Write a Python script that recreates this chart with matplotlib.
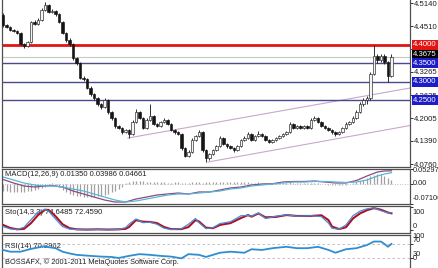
import numpy as np
import matplotlib.pyplot as plt
from matplotlib.transforms import blended_transform_factory

plt.rcParams['font.family'] = ['Liberation Sans', 'DejaVu Sans']

# ---- price data (one value per bar) ----
closes = [4.4542, 4.4488, 4.4406, 4.4379, 4.4324, 4.4025, 4.3971, 4.4080, 4.4624, 4.4569,
          4.4678, 4.4950, 4.5086, 4.4896, 4.4923, 4.4841, 4.4624, 4.4324, 4.4134, 4.4025,
          4.3644, 4.3508, 4.3100, 4.3073, 4.2828, 4.2665, 4.2556, 4.2393, 4.2312, 4.2502,
          4.2176, 4.2013, 4.1795, 4.1740, 4.1632, 4.1686, 4.1577, 4.1904, 4.2176, 4.2013,
          4.1740, 4.1958, 4.2067, 4.1849, 4.1795, 4.1904, 4.1958, 4.1849, 4.1686, 4.1632,
          4.1577, 4.1196, 4.0979, 4.1088, 4.1414, 4.1523, 4.1632, 4.1142, 4.0924, 4.1033,
          4.1142, 4.1251, 4.1468, 4.1305, 4.1251, 4.1196, 4.1142, 4.1251, 4.1414, 4.1468,
          4.1577, 4.1414, 4.1523, 4.1577, 4.1523, 4.1414, 4.1360, 4.1414, 4.1468, 4.1523,
          4.1577, 4.1632, 4.1849, 4.1740, 4.1795, 4.1740, 4.1795, 4.1740, 4.1958, 4.2013,
          4.1904, 4.1795, 4.1740, 4.1686, 4.1632, 4.1577, 4.1632, 4.1740, 4.1849, 4.1904,
          4.2013, 4.2176, 4.2393, 4.2502, 4.2556, 4.3209, 4.3699, 4.3590, 4.3699, 4.3536,
          4.3155, 4.3675]
first_open = 4.4815
highs = [4.4870, 4.4580, 4.4520, 4.4440, 4.4410, 4.4350, 4.4060, 4.4110, 4.4660, 4.4680,
         4.4720, 4.5000, 4.5170, 4.5110, 4.4970, 4.4950, 4.4870, 4.4650, 4.4360, 4.4180,
         4.4060, 4.3680, 4.3540, 4.3150, 4.3110, 4.2870, 4.2700, 4.2590, 4.2430, 4.2560,
         4.2540, 4.2210, 4.2050, 4.1830, 4.1780, 4.1720, 4.1720, 4.1950, 4.2250, 4.2210,
         4.2050, 4.2000, 4.2390, 4.2100, 4.1880, 4.1940, 4.2000, 4.1990, 4.1880, 4.1720,
         4.1670, 4.1610, 4.1230, 4.1130, 4.1460, 4.1560, 4.1680, 4.1670, 4.1180, 4.1070,
         4.1180, 4.1290, 4.1510, 4.1500, 4.1340, 4.1290, 4.1230, 4.1290, 4.1450, 4.1510,
         4.1620, 4.1610, 4.1560, 4.1650, 4.1610, 4.1560, 4.1450, 4.1450, 4.1500, 4.1560,
         4.1610, 4.1670, 4.1900, 4.1880, 4.1830, 4.1830, 4.1830, 4.1830, 4.2000, 4.2060,
         4.2050, 4.1940, 4.1830, 4.1780, 4.1720, 4.1670, 4.1670, 4.1780, 4.1900, 4.1940,
         4.2060, 4.2220, 4.2440, 4.2550, 4.2600, 4.3260, 4.4000, 4.3750, 4.3760, 4.3740,
         4.3570, 4.3740]
lows = [4.4500, 4.4450, 4.4370, 4.4340, 4.4290, 4.3990, 4.3920, 4.3940, 4.4050, 4.4530,
        4.4540, 4.4650, 4.4920, 4.4860, 4.4870, 4.4800, 4.4590, 4.4290, 4.4090, 4.3980,
        4.3600, 4.3460, 4.3060, 4.3030, 4.2790, 4.2620, 4.2510, 4.2350, 4.2270, 4.2280,
        4.2130, 4.1970, 4.1750, 4.1700, 4.1590, 4.1600, 4.1470, 4.1540, 4.1870, 4.1980,
        4.1700, 4.1710, 4.1920, 4.1810, 4.1760, 4.1760, 4.1870, 4.1810, 4.1650, 4.1590,
        4.1540, 4.1150, 4.0940, 4.0950, 4.1050, 4.1380, 4.1490, 4.1100, 4.0810, 4.0880,
        4.1000, 4.1110, 4.1220, 4.1270, 4.1210, 4.1160, 4.1100, 4.1110, 4.1220, 4.1380,
        4.1430, 4.1380, 4.1380, 4.1490, 4.1490, 4.1380, 4.1320, 4.1330, 4.1380, 4.1430,
        4.1490, 4.1540, 4.1600, 4.1700, 4.1700, 4.1700, 4.1710, 4.1700, 4.1710, 4.1920,
        4.1870, 4.1760, 4.1700, 4.1650, 4.1590, 4.1520, 4.1540, 4.1600, 4.1700, 4.1810,
        4.1870, 4.1980, 4.2140, 4.2350, 4.2400, 4.2510, 4.3170, 4.3520, 4.3540, 4.3480,
        4.3000, 4.3120]
opens = [first_open] + closes[:-1]

price_ticks = [4.5140, 4.4510, 4.3895, 4.3265, 4.2635, 4.2005, 4.1390, 4.0760]
levels = [4.4000, 4.3500, 4.3000, 4.2500]
level_colors = ['#e31414', '#1c1cc8', '#1c1cc8', '#1c1cc8']
last_price = 4.3675
# channel lines: (bar index, price) pairs
channel_up = [(35.7, 4.1468), (116.3, 4.2828)]
channel_dn = [(58.6, 4.0816), (116.3, 4.1808)]

# ---- MACD ----
macd_hist = [-0.024, -0.026, -0.027, -0.028, -0.028, -0.027, -0.027, -0.026, -0.024, -0.022, -0.019, -0.016,
             -0.010, -0.004, 0.002, -0.004, -0.012,
             -0.020, -0.028, -0.034, -0.038, -0.041, -0.044, -0.046, -0.047, -0.047, -0.046, -0.044, -0.041,
             -0.038, -0.034, -0.030, -0.025, -0.018, -0.010,
             0.004, 0.007, 0.009, 0.010, 0.010, 0.009, 0.008, 0.008, 0.007, 0.007, 0.006, 0.006, 0.005, 0.005,
             0.006, 0.006, 0.004, 0.003, 0.004, 0.006, 0.007, 0.006, 0.005, 0.006, 0.007,
             0.007, 0.008, 0.008, 0.007, 0.007, 0.006, 0.006, 0.007, 0.007, 0.006, 0.006, 0.005, 0.005, 0.006,
             0.005, 0.004, 0.004, 0.005, 0.006, 0.006, 0.005, 0.005, 0.006, 0.005, 0.005, 0.004, 0.004, 0.005,
             0.004, 0.003, 0.002, 0.001, -0.001,
             -0.003, -0.004, -0.005, -0.004, -0.003, -0.002, 0.000, 0.003, 0.006, 0.010, 0.015, 0.021, 0.027,
             0.032, 0.035, 0.034, 0.029, 0.021, 0.0135]
ind_idx = [0, 3, 6, 9, 12, 14, 17, 20, 23, 26, 29, 32, 35, 38, 41, 44, 47, 50, 53, 56, 59, 62, 65, 68,
           71, 74, 77, 80, 83, 86, 89, 92, 95, 98, 101, 104, 107, 109, 111]
macd_signal = [0.0246, 0.0140, 0.0034, -0.0037, -0.0073, -0.0073, -0.0108, -0.0179, -0.0250, -0.0356,
               -0.0463, -0.0569, -0.0640, -0.0605, -0.0534, -0.0463, -0.0392, -0.0356, -0.0356, -0.0321,
               -0.0285, -0.0250, -0.0179, -0.0143, -0.0073, -0.0037, -0.0002, 0.0034, 0.0069, 0.0069,
               0.0087, 0.0087, 0.0069, 0.0051, 0.0069, 0.0140, 0.0282, 0.0353, 0.03986]
macd_main = [0.0158, 0.0034, -0.0073, -0.0108, -0.0073, -0.0055, -0.0108, -0.0250, -0.0356, -0.0463,
             -0.0569, -0.0640, -0.0640, -0.0534, -0.0463, -0.0392, -0.0356, -0.0321, -0.0356, -0.0285,
             -0.0285, -0.0214, -0.0143, -0.0108, -0.0037, -0.0002, 0.0007, 0.0069, 0.0087, 0.0087,
             0.0104, 0.0069, 0.0034, 0.0034, 0.0122, 0.0282, 0.0423, 0.0459, 0.04661]

# ---- Stochastic ----
sto_idx = [0, 2, 4, 6, 8, 10, 12, 13, 15, 17, 19, 21, 24, 27, 30, 33, 35, 36, 38, 40, 42, 44, 46, 48,
           51, 53, 55, 56, 58, 60, 62, 65, 68, 70, 71, 73, 75, 78, 81, 84, 88, 91, 93, 94, 96, 98, 100,
           102, 104, 106, 108, 110, 111]
sto_d = [22, 9, 3, 5, 30, 65, 88, 87, 60, 25, 8, 3, 2, 3, 2, 3, 5, 13, 43, 36, 35, 30, 13, 4,
         4, 13, 43, 37, 10, 8, 22, 30, 52, 65, 58, 72, 55, 57, 65, 61, 61, 64, 43, 15, 4, 12, 50,
         72, 86, 95, 88, 76, 72.459]
sto_k = [15, 5, 2, 12, 45, 78, 90, 82, 48, 15, 4, 2, 1, 2, 1, 2, 10, 25, 48, 32, 34, 25, 8, 2,
         6, 25, 50, 32, 6, 10, 28, 36, 62, 63, 60, 74, 50, 60, 66, 60, 62, 58, 30, 8, 3, 22, 62,
         82, 92, 96, 84, 74, 74.6485]

# ---- RSI ----
rsi_idx = [0, 2, 5, 8, 11, 12, 13, 15, 17, 19, 21, 25, 28, 31, 33, 36, 39, 42, 45, 48, 51, 53, 56,
           58, 60, 62, 65, 69, 71, 74, 77, 81, 84, 87, 90, 93, 95, 98, 101, 104, 106, 108, 109, 110, 111]
rsi_vals = [53, 48, 48, 56, 62, 64, 61, 58, 48, 43, 39, 36, 34, 33, 30, 36, 41, 39, 36, 34, 29, 41, 39,
            33, 39, 45, 48, 45, 55, 53, 58, 62, 58, 58, 62, 53, 45, 55, 58, 67, 77, 77, 70, 62, 70.2962]

W, H = 439, 268
fig = plt.figure(figsize=(W / 100, H / 100), dpi=100)


def rect(top, bottom, left=2, right=410):
    return [left / W, 1 - bottom / H, (right - left) / W, (bottom - top) / H]


ax = fig.add_axes(rect(0, 167))
ax_macd = fig.add_axes(rect(169, 204), sharex=ax)
ax_sto = fig.add_axes(rect(206, 233), sharex=ax)
ax_rsi = fig.add_axes(rect(235, 280), sharex=ax)

frame = '#505050'
lab_fs = 5.6
for a in (ax, ax_macd, ax_sto, ax_rsi):
    for s in a.spines.values():
        s.set_color(frame)
        s.set_linewidth(0.9)
    a.tick_params(axis='x', bottom=False, labelbottom=False)
    a.yaxis.tick_right()
    a.tick_params(axis='y', direction='out', length=2, width=0.7, color='#303030',
                  labelsize=lab_fs, pad=0.8, labelcolor='#202020')
ax.spines['top'].set_visible(False)

# ---- candles ----
x = np.arange(len(closes))
o = np.array(opens)
c = np.array(closes)
hi = np.array(highs)
lo = np.array(lows)
up = c >= o
ax.vlines(x, lo, hi, color='#101010', lw=0.6, zorder=3)
body_lo = np.minimum(o, c)
body_h = np.maximum(np.abs(c - o), 0.0006)
ax.bar(x[up], body_h[up], bottom=body_lo[up], width=0.6, color='#f4f4f4',
       edgecolor='#202020', linewidth=0.45, zorder=4)
ax.bar(x[~up], body_h[~up], bottom=body_lo[~up], width=0.6, color='#151515',
       edgecolor='#151515', linewidth=0.45, zorder=4)

for lv, col in zip(levels, level_colors):
    if lv == 4.40:
        ax.axhline(lv, color=col, lw=2.0, zorder=2)
    else:
        ax.axhline(lv, color='#4a4a8e', lw=1.0, zorder=2)
ax.axhline(last_price, color='#c8c8c8', lw=0.8, zorder=1)
for pts in (channel_up, channel_dn):
    ax.plot([p[0] for p in pts], [p[1] for p in pts], color='#c8a8c8', lw=0.8, zorder=1)

ax.set_xlim(-0.3, 116.3)
ax.set_ylim(4.068, 4.5222)
ax.set_yticks(price_ticks)
ax.set_yticklabels(['%.4f' % t for t in price_ticks])

tr = blended_transform_factory(ax.transAxes, ax.transData)
# current price tag sits a little above its line, partly under the 4.3500 tag
ax.annotate('%.4f' % last_price, xy=(1.0075, last_price), xycoords=tr,
            xytext=(0, 1.5), textcoords='offset points', ha='left', va='center',
            fontsize=lab_fs, color='white', zorder=9, annotation_clip=False,
            bbox=dict(boxstyle='square,pad=0.18', fc='black', ec='none'))
for lv, col in zip(levels, level_colors):
    ax.text(1.0075, lv, '%.4f' % lv, transform=tr, ha='left', va='center', fontsize=lab_fs,
            color='white', zorder=10, clip_on=False,
            bbox=dict(boxstyle='square,pad=0.18', fc=col, ec='none'))

# ---- MACD panel ----
ax_macd.vlines(x, 0, macd_hist, color='#a0a0a0', lw=0.9)
ax_macd.axhline(0, color='#b0b0b0', lw=0.6, ls=(0, (1, 2)))
ax_macd.plot(ind_idx, macd_main, color='#8c4a78', lw=0.9)
ax_macd.plot(ind_idx, macd_signal, color='#58b4dc', lw=0.9)
ax_macd.set_ylim(-0.07106, 0.05297)
ax_macd.set_yticks([0.05297, 0.0, -0.07106])
ax_macd.set_yticklabels([])
ax_macd.text(0.008, 0.93, 'MACD(12,26,9) 0.01350 0.03986 0.04661', transform=ax_macd.transAxes,
             fontsize=5.5, va='top', ha='left', color='#202020', zorder=0)

# ---- Stochastic panel ----
ax_sto.text(0.008, 0.88, 'Sto(14,3,3) 74.6485 72.4590', transform=ax_sto.transAxes,
            fontsize=5.5, va='top', ha='left', color='#202020', zorder=0)
ax_sto.plot(sto_idx, sto_k, color='#4a8ad8', lw=0.9, zorder=3)
ax_sto.plot(sto_idx, sto_d, color='#b01020', lw=1.5, zorder=2)
ax_sto.set_ylim(-13, 104.3)
ax_sto.set_yticks([100, 0])
ax_sto.set_yticklabels([])

# ---- RSI panel ----
ax_rsi.axhline(70, color='#b8b8b8', lw=0.6, ls=(0, (3, 3)))
ax_rsi.axhline(30, color='#b8b8b8', lw=0.6, ls=(0, (3, 3)))
ax_rsi.plot(rsi_idx, rsi_vals, color='#2e8ed0', lw=1.3, zorder=3)
ax_rsi.set_ylim(-32.9, 95.7)
ax_rsi.set_yticks([70, 30, 0])
ax_rsi.set_yticklabels([])
ax_rsi.text(0.008, 0.83, 'RSI(14) 70.2962', transform=ax_rsi.transAxes,
            fontsize=5.5, va='top', ha='left', color='#202020', zorder=0)

# right-side indicator scale labels (MetaTrader style placement)
side = [('0.05297', 170.5), ('0.00', 183.5), ('-0.07106', 198.5),
        ('100', 212), ('0', 227),
        ('100', 237), ('70', 240.5), ('30', 254), ('0', 258)]
for txt, yp in side:
    fig.text(412.5 / W, 1 - yp / H, txt, fontsize=5.3, va='center', ha='left', color='#202020')

fig.text(5 / W, 1 - 262 / H, 'BOSSAFX, \u00a9 2001-2011 MetaQuotes Software Corp.', fontsize=5.3,
         va='center', ha='left', color='#202020')

fig.savefig('out.png', dpi=100)
